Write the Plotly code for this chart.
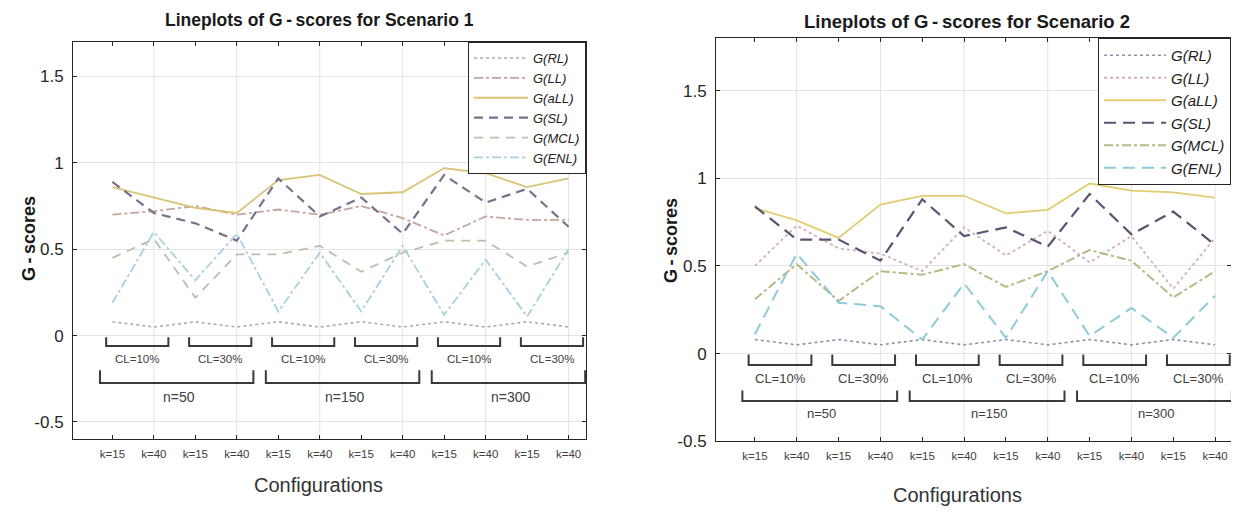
import plotly.graph_objects as go

# ---------------- data ----------------
configs = ["k=15", "k=40"] * 6
x_pos = list(range(1, 13))
cl_labels = ["CL=10%", "CL=30%"] * 3
n_labels = ["n=50", "n=150", "n=300"]
series_names = ["G(RL)", "G(LL)", "G(aLL)", "G(SL)", "G(MCL)", "G(ENL)"]

s1_RL = [0.08, 0.05, 0.08, 0.05, 0.08, 0.05, 0.08, 0.05, 0.08, 0.05, 0.08, 0.05]
s1_LL = [0.70, 0.72, 0.75, 0.70, 0.73, 0.70, 0.75, 0.68, 0.58, 0.69, 0.67, 0.67]
s1_aLL = [0.86, 0.80, 0.74, 0.71, 0.90, 0.93, 0.82, 0.83, 0.97, 0.94, 0.86, 0.91]
s1_SL = [0.89, 0.71, 0.65, 0.55, 0.91, 0.69, 0.80, 0.59, 0.93, 0.77, 0.85, 0.63]
s1_MCL = [0.45, 0.56, 0.22, 0.47, 0.47, 0.52, 0.37, 0.48, 0.55, 0.55, 0.40, 0.48]
s1_ENL = [0.19, 0.60, 0.32, 0.59, 0.14, 0.48, 0.14, 0.52, 0.12, 0.44, 0.11, 0.50]

s2_RL = [0.08, 0.05, 0.08, 0.05, 0.08, 0.05, 0.08, 0.05, 0.08, 0.05, 0.08, 0.05]
s2_LL = [0.50, 0.73, 0.60, 0.57, 0.47, 0.72, 0.56, 0.70, 0.52, 0.67, 0.37, 0.66]
s2_aLL = [0.83, 0.76, 0.66, 0.85, 0.90, 0.90, 0.80, 0.82, 0.97, 0.93, 0.92, 0.89]
s2_SL = [0.84, 0.65, 0.65, 0.53, 0.88, 0.67, 0.72, 0.61, 0.91, 0.68, 0.81, 0.62]
s2_MCL = [0.31, 0.51, 0.30, 0.47, 0.45, 0.51, 0.38, 0.47, 0.59, 0.53, 0.32, 0.47]
s2_ENL = [0.11, 0.57, 0.29, 0.27, 0.08, 0.40, 0.09, 0.47, 0.10, 0.26, 0.09, 0.33]

scen1 = [s1_RL, s1_LL, s1_aLL, s1_SL, s1_MCL, s1_ENL]
scen2 = [s2_RL, s2_LL, s2_aLL, s2_SL, s2_MCL, s2_ENL]

# ---------------- styles ----------------
style1 = [
    dict(color="#a4abbb", dash="dot", width=1.6),
    dict(color="#c4a49c", dash="dashdot", width=1.8),
    dict(color="#d9c475", dash="solid", width=1.8),
    dict(color="#7d6f8c", dash="9px,6px", width=2.2),
    dict(color="#b9bfae", dash="9px,7px", width=1.8),
    dict(color="#a6d2de", dash="dashdot", width=1.8),
]
style2 = [
    dict(color="#8c93aa", dash="dot", width=1.6),
    dict(color="#d6adbd", dash="dot", width=1.8),
    dict(color="#e2cd72", dash="solid", width=1.8),
    dict(color="#5c5274", dash="12px,7px", width=2.2),
    dict(color="#b9b986", dash="dashdot", width=2.0),
    dict(color="#8ecbd8", dash="12px,7px", width=2.0),
]

# screenshot geometry; the page body adds an 8 px offset
SW, SH = 1239, 516
OFF = 8
FW, FH = SW - OFF, SH - 2 * OFF
YS = 1.016
FONT = "Liberation Sans, Arial, sans-serif"
AX = "#262626"


def px(xs):
    return (xs - OFF) / FW


def py(ys):
    return 1 - (ys * YS - OFF) / FH


fig = go.Figure()

for vals, name, st in zip(scen1, series_names, style1):
    fig.add_trace(go.Scatter(x=x_pos, y=vals, mode="lines", name=name, line=st,
                             xaxis="x", yaxis="y", legend="legend"))
for vals, name, st in zip(scen2, series_names, style2):
    fig.add_trace(go.Scatter(x=x_pos, y=vals, mode="lines", name=name, line=st,
                             xaxis="x2", yaxis="y2", legend="legend2"))

# axes boxes in screenshot pixels
L1, R1 = 73, 586
L2, R2 = 716, 1231
T1, B1 = 42, 441
T2, B2 = 38, 443

base_x = dict(
    tickvals=x_pos, ticktext=configs, showgrid=False,
    zeroline=False, showline=True, linecolor=AX, linewidth=1, mirror="ticks",
    ticks="inside", ticklen=4, tickcolor=AX, ticklabelstandoff=4,
    tickfont=dict(family=FONT, size=11.5, color="#404040"),
)
base_y = dict(
    tickvals=[-0.5, 0, 0.5, 1, 1.5], ticktext=["-0.5", "0", "0.5", "1", "1.5"],
    showgrid=True, gridcolor="#e3e3e3", gridwidth=1, zeroline=False,
    showline=True, linecolor=AX, linewidth=1, mirror="ticks",
    ticks="inside", ticklen=4, tickcolor=AX, ticklabelstandoff=5,
    tickfont=dict(family=FONT, size=17, color=AX),
)

fig.update_layout(
    width=FW, height=FH, margin=dict(l=0, r=0, t=0, b=0),
    paper_bgcolor="white", plot_bgcolor="white",
    xaxis=dict(domain=[px(L1), px(R1)], anchor="y", range=[0.05, 12.42], **base_x),
    yaxis=dict(domain=[py(B1), py(T1)], anchor="x", range=[-0.6, 1.7], **base_y),
    xaxis2=dict(domain=[px(L2), px(R2)], anchor="y2", range=[0.07, 12.38], **base_x),
    yaxis2=dict(domain=[py(B2), py(T2)], anchor="x2", range=[-0.5, 1.8], **base_y),
    legend=dict(x=px(R1), y=py(T1), xanchor="right", yanchor="top",
                bgcolor="white", bordercolor=AX, borderwidth=1,
                font=dict(family=FONT, size=13, color="#222", style="italic"),
                itemwidth=54, tracegroupgap=0),
    legend2=dict(x=px(R2), y=py(T2), xanchor="right", yanchor="top",
                 bgcolor="white", bordercolor=AX, borderwidth=1,
                 font=dict(family=FONT, size=15, color="#222", style="italic"),
                 itemwidth=62, tracegroupgap=0),
    showlegend=True,
)

# vertical grid lines at every second configuration
shapes = []
for xr, yr in (("x", "y"), ("x2", "y2")):
    for xv in x_pos[1::2]:
        shapes.append(dict(type="line", xref=xr, yref=yr + " domain", x0=xv, x1=xv,
                           y0=0, y1=1, line=dict(color="#e3e3e3", width=1), layer="below"))


# brackets below the curves
def bracket(xr, yr, x0, x1, ytop, ybot):
    return dict(type="path", xref=xr, yref=yr,
                path=f"M {x0},{ytop} L {x0},{ybot} L {x1},{ybot} L {x1},{ytop}",
                line=dict(color="#3a3a3a", width=2))


annotations = []
specs = [
    ("x", "y", dict(st=-0.01, sb=-0.06, cl=-0.135, lt=-0.20, lb=-0.275, nl=-0.355, fs=11.5, fn=14)),
    ("x2", "y2", dict(st=-0.005, sb=-0.065, cl=-0.14, lt=-0.21, lb=-0.27, nl=-0.34, fs=13, fn=13)),
]
for xr, yr, p in specs:
    for i, lab in enumerate(cl_labels):
        a = x_pos[2 * i] - 0.15
        b = x_pos[2 * i + 1] + 0.35
        shapes.append(bracket(xr, yr, a, b, p["st"], p["sb"]))
        annotations.append(dict(xref=xr, yref=yr, x=(a + b) / 2, y=p["cl"], text=lab,
                                xanchor="center", yanchor="middle", showarrow=False,
                                font=dict(family=FONT, size=p["fs"], color="#404040")))
    for j, lab in enumerate(n_labels):
        a = x_pos[4 * j] - 0.3
        b = x_pos[4 * j + 3] + 0.4
        shapes.append(bracket(xr, yr, a, b, p["lt"], p["lb"]))
        annotations.append(dict(xref=xr, yref=yr, x=(a + b) / 2 + 0.05, y=p["nl"], text=lab,
                                xanchor="center", yanchor="middle", showarrow=False,
                                font=dict(family=FONT, size=p["fn"], color="#404040")))


# titles and axis labels
def label(xs, ys, text, size, color, angle=0, yanchor="middle"):
    return dict(xref="paper", yref="paper", x=px(xs), y=py(ys), text=text,
                xanchor="center", yanchor=yanchor, showarrow=False, textangle=angle,
                font=dict(family=FONT, size=size, color=color))


GS = "G\u2009-\u2009scores"
annotations += [
    label(319, OFF / YS, f"<b>Lineplots of {GS} for Scenario 1</b>", 17.5, "#1a1a1a",
          yanchor="top"),
    label(967, OFF / YS + 1, f"<b>Lineplots of {GS} for Scenario 2</b>", 18.5, "#1a1a1a",
          yanchor="top"),
    label(318, 487, "Configurations", 20, "#333"),
    label(957, 497, "Configurations", 20, "#333"),
    label(29, 240, f"<b>{GS}</b>", 18, "#1a1a1a", -90),
    label(671, 242, f"<b>{GS}</b>", 18, "#1a1a1a", -90),
]

fig.update_layout(shapes=shapes, annotations=annotations)

fig.write_html("out.html")
